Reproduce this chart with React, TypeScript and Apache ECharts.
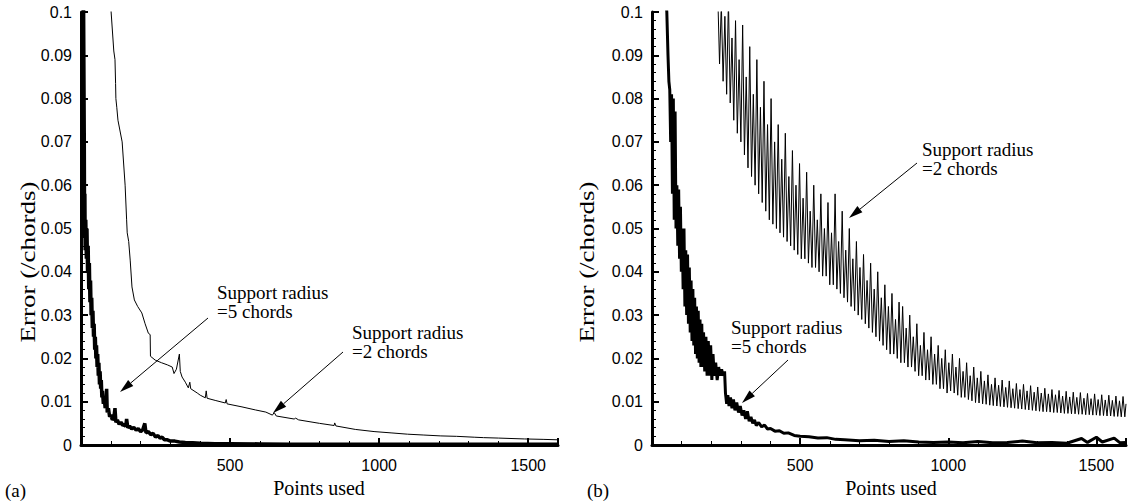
import React, { useEffect, useRef } from "react";
import * as echarts from "echarts";

// Panel (a): support radius = 5 chords (thick)
const a5: number[][] = [
  [8, 0.11], [11, 0.07], [12, 0.048], [13, 0.058], [14, 0.045], [16, 0.052], [18, 0.043], [20, 0.05],
  [22, 0.04], [24, 0.046], [26, 0.036], [28, 0.042], [30, 0.033], [32, 0.038], [34, 0.03], [36, 0.034],
  [38, 0.027], [40, 0.031], [42, 0.025], [44, 0.028], [46, 0.022], [48, 0.025], [50, 0.02], [52, 0.023],
  [54, 0.018], [56, 0.021], [58, 0.016], [60, 0.019], [62, 0.014], [64, 0.017], [66, 0.013], [68, 0.015],
  [70, 0.011], [72, 0.0125], [75, 0.0095], [78, 0.011], [81, 0.0085], [84, 0.0095], [86, 0.013], [88, 0.0075],
  [92, 0.0085], [96, 0.0065], [100, 0.007], [105, 0.0058], [110, 0.0062], [114, 0.0085], [117, 0.0052],
  [122, 0.0058], [128, 0.0048], [134, 0.0053], [140, 0.0045], [146, 0.0048], [150, 0.0042], [153, 0.006],
  [157, 0.004], [163, 0.0044], [170, 0.0037], [177, 0.0041], [185, 0.0034], [192, 0.0038], [200, 0.0031],
  [207, 0.0035], [214, 0.005], [218, 0.0028], [226, 0.0031], [234, 0.0024], [242, 0.0027], [250, 0.0018],
  [258, 0.0022], [265, 0.0016], [272, 0.0018], [280, 0.0012], [290, 0.0012], [300, 0.0009], [315, 0.0009],
  [330, 0.0007], [350, 0.0006], [375, 0.0005], [400, 0.0004], [450, 0.0003], [500, 0.0003], [600, 0.00025],
  [700, 0.0002], [800, 0.0002], [1000, 0.0002], [1200, 0.00015], [1400, 0.0002], [1600, 0.0002],
];

// Panel (a): support radius = 2 chords (thin)
const a2: number[][] = [
  [99, 0.104], [101, 0.1], [110, 0.091], [114, 0.089], [116, 0.0835], [117, 0.08], [120, 0.078], [124, 0.075],
  [138, 0.07], [148, 0.06], [153, 0.052], [155, 0.049], [160, 0.047], [165, 0.0427], [171, 0.0365],
  [179, 0.0335], [190, 0.032], [204, 0.0305], [215, 0.028], [226, 0.0258], [232, 0.0255], [233, 0.0205],
  [249, 0.0196], [270, 0.019], [290, 0.0185], [306, 0.018], [312, 0.0165], [320, 0.0175], [330, 0.021],
  [333, 0.017], [339, 0.0157], [350, 0.0145], [360, 0.0132], [365, 0.0145], [368, 0.013], [390, 0.012],
  [400, 0.0115], [417, 0.0109], [420, 0.0125], [423, 0.0108], [450, 0.0103], [484, 0.0097], [487, 0.0105],
  [490, 0.0095], [540, 0.0088], [585, 0.0081], [620, 0.0076], [642, 0.0069], [648, 0.0075], [655, 0.0067],
  [715, 0.006], [720, 0.0062], [730, 0.0058], [800, 0.005], [849, 0.0045], [851, 0.0051], [855, 0.0044],
  [920, 0.0036], [983, 0.0031], [1040, 0.0028], [1095, 0.0025], [1150, 0.0023], [1207, 0.0021],
  [1260, 0.002], [1319, 0.0018], [1350, 0.0017], [1400, 0.0016], [1487, 0.0014], [1550, 0.0013], [1600, 0.0012],
];

// Panel (b): support radius = 5 chords (thick)
const b5: number[][] = [
  [45, 0.105], [50, 0.1], [54, 0.09], [57, 0.084], [60, 0.082], [63, 0.07], [66, 0.081], [69, 0.058],
  [72, 0.08], [75, 0.052], [78, 0.077], [81, 0.05], [84, 0.06], [87, 0.046], [90, 0.059], [93, 0.043],
  [96, 0.055], [99, 0.04], [102, 0.05], [105, 0.036], [108, 0.05], [111, 0.032], [114, 0.045], [117, 0.03],
  [120, 0.044], [123, 0.028], [126, 0.041], [129, 0.026], [132, 0.038], [135, 0.024], [138, 0.036],
  [141, 0.023], [144, 0.034], [147, 0.021], [150, 0.032], [153, 0.02], [156, 0.031], [159, 0.019],
  [162, 0.029], [165, 0.018], [168, 0.028], [171, 0.018], [174, 0.026], [178, 0.017], [182, 0.025],
  [186, 0.016], [190, 0.024], [194, 0.016], [198, 0.023], [202, 0.015], [206, 0.021], [210, 0.016],
  [215, 0.019], [220, 0.015], [225, 0.018], [230, 0.016], [235, 0.0175], [240, 0.016], [245, 0.017],
  [248, 0.012], [252, 0.0095], [256, 0.0115], [260, 0.009], [265, 0.011], [270, 0.0085], [275, 0.0105],
  [280, 0.008], [286, 0.0098], [292, 0.0075], [298, 0.009], [304, 0.0068], [310, 0.008], [316, 0.006],
  [322, 0.0078], [328, 0.0055], [334, 0.0065], [340, 0.005], [346, 0.0058], [352, 0.0045], [360, 0.0052],
  [370, 0.0042], [380, 0.0046], [390, 0.0037], [400, 0.0038], [415, 0.0032], [430, 0.0033], [445, 0.0027],
  [460, 0.0028], [480, 0.0022], [500, 0.002], [530, 0.0019], [560, 0.0016], [590, 0.0017], [620, 0.0013],
  [650, 0.0012], [700, 0.001], [750, 0.0011], [800, 0.0008], [850, 0.001], [900, 0.0007], [950, 0.0006],
  [1000, 0.0007], [1050, 0.0005], [1100, 0.0008], [1150, 0.0005], [1200, 0.0006], [1250, 0.0009],
  [1300, 0.0005], [1350, 0.0006], [1400, 0.0004], [1450, 0.0015], [1470, 0.0006], [1500, 0.0018],
  [1520, 0.0007], [1560, 0.0016], [1580, 0.0005], [1600, 0.0006],
];

// Panel (b): support radius = 2 chords (thin, noisy)
const b2: number[][] = [
  [222, 0.104], [228, 0.088], [234, 0.102], [240, 0.084], [246, 0.099], [252, 0.081], [258, 0.103],
  [264, 0.079], [270, 0.094], [276, 0.075], [282, 0.098], [288, 0.072], [294, 0.089], [300, 0.07],
  [306, 0.097], [312, 0.067], [318, 0.085], [324, 0.064], [330, 0.092], [336, 0.062], [342, 0.081],
  [348, 0.06], [354, 0.089], [360, 0.058], [366, 0.078], [372, 0.056], [378, 0.084], [384, 0.054],
  [390, 0.074], [396, 0.052], [402, 0.08], [408, 0.051], [414, 0.07], [420, 0.05], [426, 0.074],
  [432, 0.049], [438, 0.066], [444, 0.048], [450, 0.072], [456, 0.047], [462, 0.062], [468, 0.046],
  [474, 0.068], [480, 0.045], [486, 0.06], [492, 0.044], [498, 0.065], [504, 0.043], [510, 0.057],
  [516, 0.043], [522, 0.063], [528, 0.042], [534, 0.054], [540, 0.041], [546, 0.06], [552, 0.041],
  [558, 0.052], [564, 0.04], [570, 0.058], [576, 0.039], [582, 0.05], [588, 0.039], [594, 0.056],
  [600, 0.037], [606, 0.049], [612, 0.037], [618, 0.058], [624, 0.036], [630, 0.047], [636, 0.035],
  [642, 0.054], [648, 0.034], [654, 0.045], [660, 0.033], [666, 0.05], [672, 0.032], [678, 0.043],
  [684, 0.031], [690, 0.047], [696, 0.03], [702, 0.041], [708, 0.029], [714, 0.044], [720, 0.028],
  [726, 0.038], [732, 0.027], [738, 0.042], [744, 0.026], [750, 0.036], [756, 0.025], [762, 0.04],
  [768, 0.024], [774, 0.034], [780, 0.023], [786, 0.037], [792, 0.022], [798, 0.032], [804, 0.021],
  [810, 0.035], [816, 0.021], [822, 0.029], [828, 0.02], [834, 0.033], [840, 0.019], [846, 0.032],
  [852, 0.019], [858, 0.027], [864, 0.018], [870, 0.03], [876, 0.018], [882, 0.025], [888, 0.017],
  [894, 0.028], [900, 0.016], [906, 0.023], [912, 0.016], [918, 0.026], [924, 0.015], [930, 0.022],
  [936, 0.015], [942, 0.025], [948, 0.014], [954, 0.021], [960, 0.014], [966, 0.023], [972, 0.013],
  [978, 0.02], [984, 0.013], [990, 0.022], [996, 0.012], [1002, 0.019], [1008, 0.0125], [1014, 0.021],
  [1020, 0.012], [1026, 0.018], [1032, 0.0115], [1038, 0.02], [1044, 0.011], [1050, 0.017], [1056, 0.011],
  [1062, 0.019], [1068, 0.0105], [1074, 0.016], [1080, 0.0102], [1086, 0.018], [1092, 0.0098],
  [1098, 0.0155], [1104, 0.0097], [1110, 0.017], [1116, 0.0095], [1122, 0.0148], [1128, 0.0094],
  [1134, 0.0162], [1140, 0.0092], [1146, 0.014], [1152, 0.0091], [1158, 0.0155], [1164, 0.009],
  [1170, 0.0138], [1176, 0.0089], [1182, 0.015], [1188, 0.0088], [1194, 0.0133], [1200, 0.0087],
  [1206, 0.0148], [1212, 0.0086], [1218, 0.013], [1224, 0.0085], [1230, 0.0142], [1236, 0.0084],
  [1242, 0.0128], [1248, 0.0083], [1254, 0.014], [1260, 0.0082], [1266, 0.0125], [1272, 0.0081],
  [1278, 0.0137], [1284, 0.008], [1290, 0.0122], [1296, 0.0079], [1302, 0.0134], [1308, 0.0078],
  [1314, 0.012], [1320, 0.0077], [1326, 0.0131], [1332, 0.0077], [1338, 0.0118], [1344, 0.0076],
  [1350, 0.0128], [1356, 0.0075], [1362, 0.0116], [1368, 0.0075], [1374, 0.0126], [1380, 0.0074],
  [1386, 0.0113], [1392, 0.0073], [1398, 0.0124], [1404, 0.0073], [1410, 0.0111], [1416, 0.0072],
  [1422, 0.0122], [1428, 0.0072], [1434, 0.011], [1440, 0.0071], [1446, 0.0121], [1452, 0.0071],
  [1458, 0.0108], [1464, 0.007], [1470, 0.0119], [1476, 0.007], [1482, 0.0107], [1488, 0.0069],
  [1494, 0.0118], [1500, 0.0069], [1506, 0.0105], [1512, 0.0068], [1518, 0.0116], [1524, 0.0068],
  [1530, 0.0104], [1536, 0.0067], [1542, 0.0115], [1548, 0.0067], [1554, 0.0103], [1560, 0.0066],
  [1566, 0.0113], [1572, 0.0066], [1578, 0.0102], [1584, 0.0065], [1590, 0.0112], [1596, 0.0065],
  [1600, 0.0095],
];

const xRange = [0, 1600];
const xStep = 500;
const yRange = [0, 0.1];
const yStep = 0.01;
const panelLetters = ["(a)", "(b)"];
const xTitle = "Points used";
const yTitle = "Error (/chords)";
const annot5 = "Support radius\n=5 chords";
const annot2 = "Support radius\n=2 chords";

const SERIF = "Liberation Serif";
const SANS = "Liberation Sans";

function arrow(x1: number, y1: number, x2: number, y2: number) {
  const dx = x2 - x1, dy = y2 - y1;
  const len = Math.sqrt(dx * dx + dy * dy);
  const ux = dx / len, uy = dy / len;
  const nx = -uy, ny = ux;
  const L = 14, W = 4;
  const bx = x2 - ux * L, by = y2 - uy * L;
  return [
    { type: "line", shape: { x1, y1, x2: bx, y2: by }, style: { stroke: "#000", lineWidth: 1 }, silent: true },
    {
      type: "polygon",
      shape: { points: [[x2, y2], [bx + nx * W, by + ny * W], [bx - nx * W, by - ny * W]] },
      style: { fill: "#000" },
      silent: true,
    },
  ];
}

function txt(x: number, y: number, text: string, size: number, align = "left", extra: any = {}) {
  return {
    type: "text",
    x,
    y,
    silent: true,
    ...extra,
    style: {
      text,
      fontSize: size,
      fontFamily: SERIF,
      lineHeight: 19,
      fill: "#000",
      align,
      verticalAlign: "middle",
      textAlign: align,
      textVerticalAlign: "middle",
    },
  };
}

export default function App() {
  const ref = useRef<HTMLDivElement>(null);
  useEffect(() => {
    document.body.style.margin = "0";
    const chart = echarts.init(ref.current!, undefined, { renderer: "svg" });
    const xAxisBase = (gridIndex: number) => ({
      type: "value",
      gridIndex,
      min: xRange[0],
      max: xRange[1],
      interval: xStep,
      axisLine: { show: true, lineStyle: { color: "#000", width: 3 } },
      axisTick: { show: true, inside: true, length: 7, lineStyle: { color: "#000", width: 2 } },
      minorTick: { show: true, splitNumber: 5, length: 4, lineStyle: { color: "#000", width: 1 } },
      splitLine: { show: false },
      minorSplitLine: { show: false },
      axisLabel: {
        color: "#000",
        fontSize: 16,
        fontFamily: SANS,
        margin: 12,
        formatter: (v: number) => (v === 0 || v === xRange[1] ? "" : String(v)),
      },
    });
    const yAxisBase = (gridIndex: number) => ({
      type: "value",
      gridIndex,
      min: yRange[0],
      max: yRange[1],
      interval: yStep,
      axisLine: { show: true, lineStyle: { color: "#000", width: 3 } },
      axisTick: { show: true, inside: true, length: 7, lineStyle: { color: "#000", width: 2 } },
      minorTick: { show: true, splitNumber: 5, length: 4, lineStyle: { color: "#000", width: 1 } },
      splitLine: { show: false },
      minorSplitLine: { show: false },
      axisLabel: {
        color: "#000",
        fontSize: 16,
        fontFamily: SANS,
        margin: 9,
        formatter: (v: number) => String(Number(v.toFixed(3))),
      },
    });
    const line = (data: number[][], idx: number, width: number) => ({
      type: "line",
      data,
      xAxisIndex: idx,
      yAxisIndex: idx,
      showSymbol: false,
      symbol: "none",
      clip: true,
      lineStyle: { color: "#000", width },
      emphasis: { disabled: true },
    });
    chart.setOption({
      animation: false,
      backgroundColor: "#fff",
      grid: [
        { left: 81, top: 12, width: 477, height: 433 },
        { left: 652, top: 12, width: 479, height: 433 },
      ],
      xAxis: [xAxisBase(0), xAxisBase(1)],
      yAxis: [yAxisBase(0), yAxisBase(1)],
      series: [line(a2, 0, 1), line(a5, 0, 3.5), line(b2, 1, 1), line(b5, 1, 3)],
      graphic: [
        txt(5, 490, panelLetters[0], 19),
        txt(587, 490, panelLetters[1], 19),
        txt(319, 488, xTitle, 20, "center"),
        txt(891, 488, xTitle, 20, "center"),
        txt(28, 262, yTitle, 20, "center", { rotation: Math.PI / 2, scaleX: 1.35 }),
        txt(587, 262, yTitle, 20, "center", { rotation: Math.PI / 2, scaleX: 1.35 }),
        txt(217, 302, annot5, 19),
        txt(352, 342, annot2, 19),
        txt(922, 159, annot2, 19),
        txt(731, 337, annot5, 19),
        ...arrow(208, 318, 120, 392),
        ...arrow(343, 352, 273, 413),
        ...arrow(917, 163, 849, 218),
        ...arrow(788, 360, 742, 403),
      ],
    });
    return () => chart.dispose();
  }, []);
  return (
    <div
      ref={ref}
      style={{ position: "absolute", left: 0, top: 0, width: 1129, height: 503, overflow: "hidden" }}
    />
  );
}
